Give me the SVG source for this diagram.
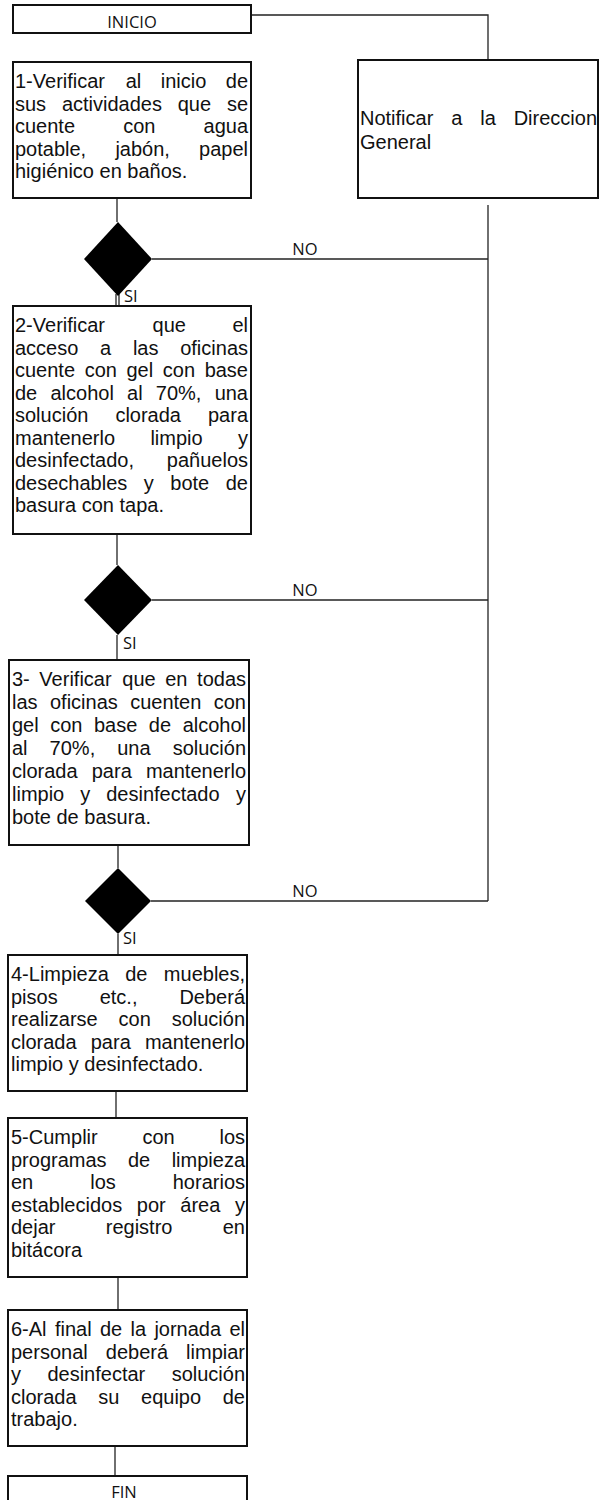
<svg xmlns="http://www.w3.org/2000/svg" width="599" height="1500" viewBox="0 0 599 1500">
<style>
.box{fill:#fff;stroke:#111;stroke-width:2}
.t{font-family:"Liberation Sans",Arial,sans-serif;font-size:20px;fill:#111}
.lbl{font-family:"Open Sans","DejaVu Sans",sans-serif;font-size:16.5px;fill:#111}
.dia{fill:#000}
.ln{stroke:#222;stroke-width:1.3;fill:none}
</style>
<rect width="599" height="1500" fill="#fff"/>
<g id="connectors">
<path class="ln" d="M251 15 H488 V60"/>
<path class="ln" d="M488 205 V901"/>
<path class="ln" d="M117 198 V222"/>
<path class="ln" d="M116 294 V306 M119 294 V306"/>
<path class="ln" d="M117 534 V565"/>
<path class="ln" d="M117 635 V660"/>
<path class="ln" d="M118 845 V868"/>
<path class="ln" d="M118 934 V955"/>
<path class="ln" d="M116 1091 V1118"/>
<path class="ln" d="M118 1277 V1310"/>
<path class="ln" d="M115 1446 V1476"/>
<path class="ln" d="M152 259 H488"/>
<path class="ln" d="M152 600 H488"/>
<path class="ln" d="M151 901 H488"/>
<text class="lbl" x="305" y="254.5" text-anchor="middle">NO</text>
<text class="lbl" x="305" y="595.5" text-anchor="middle">NO</text>
<text class="lbl" x="305" y="896.5" text-anchor="middle">NO</text>
<text class="lbl" x="124" y="302">SI</text>
<text class="lbl" x="123" y="649">SI</text>
<text class="lbl" x="123" y="944">SI</text>
</g>
<g id="inicio">
<rect class="box" x="13" y="5" width="238" height="28"/>
<text class="lbl" x="132" y="27.5" text-anchor="middle">INICIO</text>
</g>
<g id="notificar">
<rect class="box" x="358" y="60" width="240" height="138"/>
<text class="t" y="125"><tspan x="360">Notificar</tspan><tspan x="451.22">a</tspan><tspan x="480.22">la</tspan><tspan x="513.66">Direccion</tspan></text>
<text class="t" x="360" y="148.5">General</text>
</g>
<g id="paso1">
<rect class="box" x="13" y="62" width="238" height="136"/>
<text class="t" y="88"><tspan x="15">1-Verificar</tspan><tspan x="125.63">al</tspan><tspan x="160.7">inicio</tspan><tspan x="225.77">de</tspan></text>
<text class="t" y="110.5"><tspan x="15">sus</tspan><tspan x="61.91">actividades</tspan><tspan x="177.73">que</tspan><tspan x="226.88">se</tspan></text>
<text class="t" y="133"><tspan x="15">cuente</tspan><tspan x="123.16">con</tspan><tspan x="203.52">agua</tspan></text>
<text class="t" y="155.5"><tspan x="15">potable,</tspan><tspan x="115.38">jabón,</tspan><tspan x="199.08">papel</tspan></text>
<text class="t" x="15" y="178">higiénico en baños.</text>
</g>
<g id="decision1">
<polygon class="dia" points="118,222 152,259 118,296 84,259"/>
</g>
<g id="paso2">
<rect class="box" x="13" y="306" width="238" height="228"/>
<text class="t" y="332"><tspan x="15">2-Verificar</tspan><tspan x="152.6">que</tspan><tspan x="232.44">el</tspan></text>
<text class="t" y="354.5"><tspan x="15">acceso</tspan><tspan x="100.08">a</tspan><tspan x="132.92">las</tspan><tspan x="180.2">oficinas</tspan></text>
<text class="t" y="377"><tspan x="15">cuente</tspan><tspan x="84.65">con</tspan><tspan x="126.5">gel</tspan><tspan x="162.79">con</tspan><tspan x="204.64">base</tspan></text>
<text class="t" y="399.5"><tspan x="15">de</tspan><tspan x="50.47">alcohol</tspan><tspan x="127.05">al</tspan><tspan x="155.84">70%,</tspan><tspan x="214.64">una</tspan></text>
<text class="t" y="422"><tspan x="15">solución</tspan><tspan x="115.38">clorada</tspan><tspan x="207.98">para</tspan></text>
<text class="t" y="444.5"><tspan x="15">mantenerlo</tspan><tspan x="150.41">limpio</tspan><tspan x="238">y</tspan></text>
<text class="t" y="467"><tspan x="15">desinfectado,</tspan><tspan x="166.84">pañuelos</tspan></text>
<text class="t" y="489.5"><tspan x="15">desechables</tspan><tspan x="143.8">y</tspan><tspan x="170.32">bote</tspan><tspan x="225.76">de</tspan></text>
<text class="t" x="15" y="512">basura con tapa.</text>
</g>
<g id="decision2">
<polygon class="dia" points="118,565 152,600 118,635 84,600"/>
</g>
<g id="paso3">
<rect class="box" x="9" y="660" width="240" height="185"/>
<text class="t" y="686"><tspan x="12">3-</tspan><tspan x="39.37">Verificar</tspan><tspan x="122.3">que</tspan><tspan x="165.25">en</tspan><tspan x="197.08">todas</tspan></text>
<text class="t" y="709"><tspan x="12">las</tspan><tspan x="49.97">oficinas</tspan><tspan x="130.18">cuenten</tspan><tspan x="213.75">con</tspan></text>
<text class="t" y="732"><tspan x="12">gel</tspan><tspan x="50.21">con</tspan><tspan x="93.98">base</tspan><tspan x="148.87">de</tspan><tspan x="182.64">alcohol</tspan></text>
<text class="t" y="755"><tspan x="12">al</tspan><tspan x="49.61">70%,</tspan><tspan x="117.24">una</tspan><tspan x="172.65">solución</tspan></text>
<text class="t" y="778"><tspan x="12">clorada</tspan><tspan x="91.76">para</tspan><tspan x="145.96">mantenerlo</tspan></text>
<text class="t" y="801"><tspan x="12">limpio</tspan><tspan x="80.21">y</tspan><tspan x="106.2">desinfectado</tspan><tspan x="236">y</tspan></text>
<text class="t" x="12" y="824">bote de basura.</text>
</g>
<g id="decision3">
<polygon class="dia" points="118,868 151,901 118,934 85,901"/>
</g>
<g id="paso4">
<rect class="box" x="8" y="955" width="239" height="136"/>
<text class="t" y="981"><tspan x="11">4-Limpieza</tspan><tspan x="125.21">de</tspan><tspan x="163.86">muebles,</tspan></text>
<text class="t" y="1003.5"><tspan x="11">pisos</tspan><tspan x="99.65">etc.,</tspan><tspan x="179.42">Deberá</tspan></text>
<text class="t" y="1026"><tspan x="11">realizarse</tspan><tspan x="118.54">con</tspan><tspan x="171.64">solución</tspan></text>
<text class="t" y="1048.5"><tspan x="11">clorada</tspan><tspan x="90.76">para</tspan><tspan x="144.96">mantenerlo</tspan></text>
<text class="t" x="11" y="1071">limpio y desinfectado.</text>
</g>
<g id="paso5">
<rect class="box" x="8" y="1118" width="239" height="159"/>
<text class="t" y="1144"><tspan x="11">5-Cumplir</tspan><tspan x="142.43">con</tspan><tspan x="219.44">los</tspan></text>
<text class="t" y="1166.5"><tspan x="11">programas</tspan><tspan x="128">de</tspan><tspan x="171.66">limpieza</tspan></text>
<text class="t" y="1189"><tspan x="11">en</tspan><tspan x="90.22">los</tspan><tspan x="172.76">horarios</tspan></text>
<text class="t" y="1211.5"><tspan x="11">establecidos</tspan><tspan x="136.8">por</tspan><tspan x="180.34">área</tspan><tspan x="235">y</tspan></text>
<text class="t" y="1234"><tspan x="11">dejar</tspan><tspan x="105.77">registro</tspan><tspan x="222.76">en</tspan></text>
<text class="t" x="11" y="1256.5">bitácora</text>
</g>
<g id="paso6">
<rect class="box" x="8" y="1310" width="239" height="136"/>
<text class="t" y="1336"><tspan x="11">6-Al</tspan><tspan x="54.9">final</tspan><tspan x="99.92">de</tspan><tspan x="130.5">la</tspan><tspan x="154.4">jornada</tspan><tspan x="229.44">el</tspan></text>
<text class="t" y="1358.5"><tspan x="11">personal</tspan><tspan x="105.78">deberá</tspan><tspan x="186.12">limpiar</tspan></text>
<text class="t" y="1381"><tspan x="11">y</tspan><tspan x="47.41">desinfectar</tspan><tspan x="171.64">solución</tspan></text>
<text class="t" y="1403.5"><tspan x="11">clorada</tspan><tspan x="98.25">su</tspan><tspan x="141.04">equipo</tspan><tspan x="222.75">de</tspan></text>
<text class="t" x="11" y="1426">trabajo.</text>
</g>
<g id="fin">
<rect class="box" x="8" y="1476" width="239" height="34"/>
<text class="lbl" x="124" y="1498" text-anchor="middle">FIN</text>
</g>
</svg>
